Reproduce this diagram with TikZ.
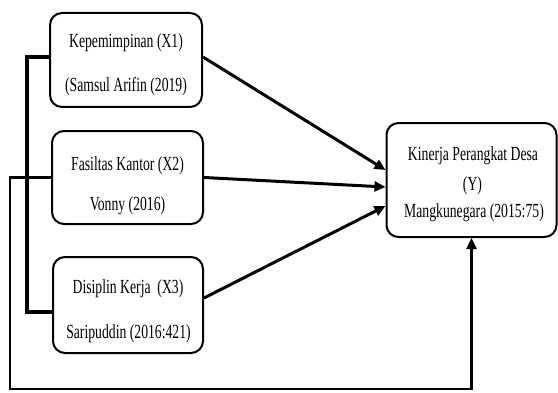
\documentclass[tikz,border=0pt]{standalone}
\usepackage{fontspec}
\setmainfont{Liberation Serif}[FakeStretch=0.685]
\usepackage{tikz}
\usetikzlibrary{arrows.meta,positioning}

\begin{document}
\begin{tikzpicture}[x=1pt,y=1pt,
	every node/.style={font=\fontsize{20}{24}\selectfont,inner sep=0pt},
	varbox/.style={draw,line width=2pt,rounded corners=12pt},
	link/.style={line width=3pt,-{Triangle[length=11pt,width=10pt]}},
	bracket/.style={line width=3.5pt},
	feedback/.style={line width=2.4pt,-{Triangle[length=11pt,width=10pt]}}]
			\useasboundingbox (0,0) rectangle (558,392);
			\node (X1) at (126,332) [varbox,minimum width=152pt,minimum height=94pt] {};
			\node (X2) at (127.5,214.5) [varbox,minimum width=151pt,minimum height=93pt] {};
			\node (X3) at (128,87) [varbox,minimum width=150pt,minimum height=96pt] {};
			\node (Y) at (471.5,212) [varbox,minimum width=170pt,minimum height=114pt] {};
			\node (x1a) at (126,344) [anchor=base] {Kepemimpinan (X1)};
			\node (x1b) at (126,301) [anchor=base] {(Samsul Arifin (2019)};
			\node (x2a) at (127.5,222) [anchor=base] {Fasiltas Kantor (X2)};
			\node (x2b) at (127.5,182) [anchor=base] {Vonny (2016)};
			\node (x3a) at (128,99) [anchor=base] {Disiplin Kerja~ (X3)};
			\node (x3b) at (128.5,54) [anchor=base] {Saripuddin (2016:421)};
			\node (ya) at (473,232) [anchor=base] {Kinerja Perangkat Desa};
			\node (yb) at (472.5,201) [anchor=base] {(Y)};
			\node (yc) at (474,175) [anchor=base] {Mangkunegara (2015:75)};
			\draw[link] ([yshift=3pt]X1.east) -- ([yshift=10pt]Y.west);
			\draw[link] (X2.east) -- ([yshift=-7pt]Y.west);
			\draw[link] ([yshift=7pt]X3.east) -- ([yshift=-26pt]Y.west);
			\draw[bracket] ([yshift=3pt]X1.west) -- ++(-22,0) |- ([yshift=-7pt]X3.west);
			\coordinate (corner) at (10,3);
			\draw[feedback] (X2.west) -| (corner) -| (Y.south);
		\end{tikzpicture}
\end{document}
